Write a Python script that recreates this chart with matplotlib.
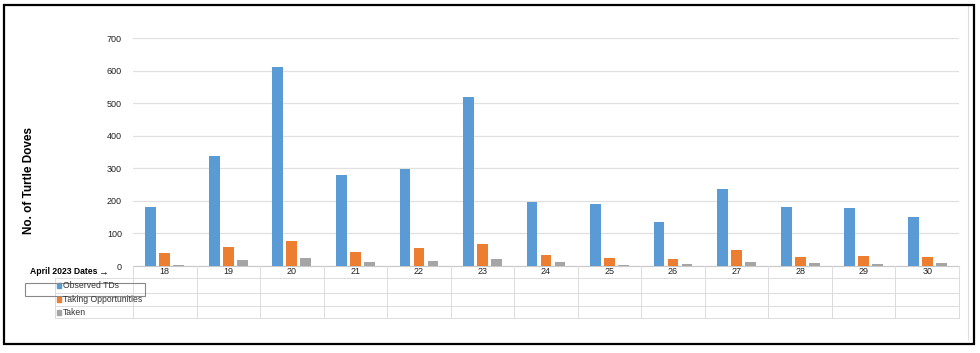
import matplotlib
matplotlib.use("Agg")
import matplotlib.pyplot as plt
import numpy as np
from matplotlib.patches import Rectangle

plt.rcParams['font.family'] = ['Liberation Sans', 'DejaVu Sans']

# data
dates = ["18", "19", "20", "21", "22", "23", "24", "25", "26", "27", "28", "29", "30"]
observed = [182, 338, 612, 280, 298, 518, 197, 189, 136, 237, 181, 179, 151]
taking = [39, 57, 77, 44, 54, 68, 35, 24, 21, 49, 29, 32, 29]
taken = [4, 18, 24, 11, 14, 22, 12, 2, 6, 11, 8, 5, 10]
series_names = ["Observed TDs", "Taking Opportunities", "Taken"]
colors = ["#5b9bd5", "#ed7d31", "#a5a5a5"]

W, H = 980, 353
fig = plt.figure(figsize=(W / 100, H / 100), dpi=100)
ax = fig.add_axes([133 / W, 1 - 266 / H, (959 - 133) / W, (266 - 38) / H])

x = np.arange(len(dates))
bw = 0.17
for i, vals in enumerate([observed, taking, taken]):
    ax.bar(x + (i - 1) * 0.22, vals, width=bw, color=colors[i], zorder=3)

ax.set_xlim(-0.5, len(dates) - 0.5)
ax.set_ylim(0, 700)
ax.set_yticks(range(0, 701, 100))
ax.tick_params(axis='y', length=0, labelsize=6.5, pad=8, colors='#222222')
ax.set_xticks([])
ax.grid(axis='y', color='#e0e0e0', lw=0.9, zorder=0)
for s in ax.spines.values():
    s.set_visible(False)

# data table under the plot
tr = ax.get_xaxis_transform()
ah = 228.0
def fy(py):
    return -(py - 266) / ah

row_y = [266, 278, 292.7, 305.7, 318.3]
gc = '#dcdcdc'
ax.plot([-0.5, len(dates) - 0.5], [fy(266)] * 2, color='#c8c8c8', lw=0.8, transform=tr, clip_on=False)
x_left = -0.5 - (133 - 55) / (826 / 13)
for py in row_y[1:]:
    ax.plot([x_left, len(dates) - 0.5], [fy(py)] * 2, color=gc, lw=0.7, transform=tr, clip_on=False)
for b in np.arange(-0.5, len(dates), 1.0):
    ax.plot([b, b], [fy(266), fy(318.3)], color=gc, lw=0.7, transform=tr, clip_on=False)
ax.plot([x_left, x_left], [fy(278), fy(318.3)], color=gc, lw=0.7, transform=tr, clip_on=False)

for i, d in enumerate(dates):
    ax.text(i, fy(272), d, transform=tr, ha='center', va='center', fontsize=6.5, color='#222222')

label_y = [285.5, 299, 312.5]
for name, c, py in zip(series_names, colors, label_y):
    fig.patches.append(Rectangle((57 / W, 1 - (py + 2.5) / H), 4 / W, 5 / H,
                                 transform=fig.transFigure, color=c))
    fig.text(63 / W, 1 - py / H, name, fontsize=6.2, va='center', ha='left', color='#333333')

# stray box over the first row label
fig.patches.append(Rectangle((25 / W, 1 - 295.5 / H), 120 / W, 12.5 / H, transform=fig.transFigure,
                             fill=False, ec='#888888', lw=0.8))

fig.text(30 / W, 1 - 272 / H, "April 2023 Dates", fontsize=6.2, fontweight='bold', va='center', ha='left')
fig.text(98 / W, 1 - 272.5 / H, "\u2192", fontsize=7, va='center', ha='left')
fig.text(29 / W, 1 - 180 / H, "No. of Turtle Doves", rotation=90, fontsize=8.5, fontweight='bold',
         va='center', ha='center')

# outer frame
fig.patches.append(Rectangle((968 / W, 1 - 340 / H), 0, 335 / H, transform=fig.transFigure,
                             fill=False, ec='#dddddd', lw=0.8))
fig.patches.append(Rectangle((3.5 / W, 1 - 344 / H), 970.5 / W, 339.5 / H, transform=fig.transFigure,
                             fill=False, ec='black', lw=1.6))

fig.savefig("out.png", dpi=100)
